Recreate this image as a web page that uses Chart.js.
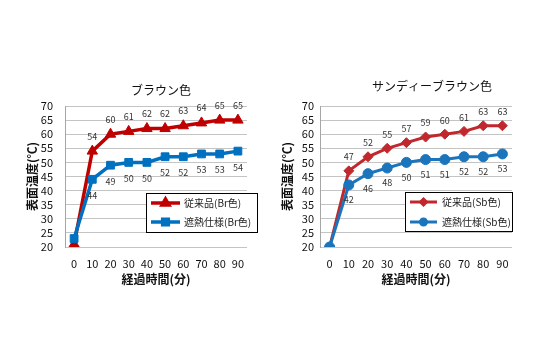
<!DOCTYPE html>
<html>
<head>
<meta charset="utf-8">
<script src="https://cdn.jsdelivr.net/npm/chart.js@4.4.0/dist/chart.umd.min.js"></script>
<style>
html,body{margin:0;padding:0;background:#fff;width:540px;height:360px;overflow:hidden;}
canvas{position:absolute;top:0;}
#c1{left:0;}
#c2{left:270px;}
</style>
</head>
<body>
<canvas id="c1" width="270" height="360"></canvas>
<canvas id="c2" width="270" height="360"></canvas>
<script>
// ---- data ----
const minutes = ['0','10','20','30','40','50','60','70','80','90'];

const brownTitle = 'ブラウン色';
const brownConvLabel = '従来品(Br色)';
const brownConv = [21, 54, 60, 61, 62, 62, 63, 64, 65, 65];
const brownHeatLabel = '遮熱仕様(Br色)';
const brownHeat = [23, 44, 49, 50, 50, 52, 52, 53, 53, 54];

const sandyTitle = 'サンディーブラウン色';
const sandyConvLabel = '従来品(Sb色)';
const sandyConv = [20, 47, 52, 55, 57, 59, 60, 61, 63, 63];
const sandyHeatLabel = '遮熱仕様(Sb色)';
const sandyHeat = [20, 42, 46, 48, 50, 51, 51, 52, 52, 53];

const yTitle = '表面温度(℃)';
const xTitle = '経過時間(分)';

const FONT = '"Noto Sans CJK JP", "Noto Sans", sans-serif';

function makeChart(id, o) {
  const extras = {
    id: 'extras',
    afterDraw(chart) {
      const ctx = chart.ctx;
      ctx.save();
      // title
      ctx.fillStyle = '#111';
      ctx.font = '12px ' + FONT;
      ctx.textAlign = 'center';
      ctx.textBaseline = 'middle';
      ctx.fillText(o.title, o.titleX, o.titleY);
      // data labels
      ctx.font = '9px ' + FONT;
      ctx.fillStyle = '#333';
      chart.data.datasets.forEach((ds, di) => {
        const meta = chart.getDatasetMeta(di);
        meta.data.forEach((pt, i) => {
          if (i === 0) return;
          ctx.fillText(String(ds.data[i]), pt.x, pt.y + o.labelOff[di]);
        });
      });
      // legend
      const L = o.legend;
      ctx.fillStyle = '#fff';
      ctx.fillRect(L.x, L.y, L.w, L.h);
      ctx.strokeStyle = '#000';
      ctx.lineWidth = 1;
      ctx.strokeRect(L.x + 0.5, L.y + 0.5, L.w, L.h);
      chart.data.datasets.forEach((ds, di) => {
        const yy = L.y + L.rows[di];
        ctx.strokeStyle = ds.borderColor;
        ctx.lineWidth = ds.borderWidth;
        ctx.beginPath();
        ctx.moveTo(L.x + L.lx0, yy);
        ctx.lineTo(L.x + L.lx1, yy);
        ctx.stroke();
        ctx.fillStyle = ds.pointBackgroundColor;
        ctx.strokeStyle = ds.borderColor;
        Chart.helpers.drawPoint(ctx, {pointStyle: ds.pointStyle, radius: L.mr, rotation: 0, borderWidth: 1}, L.x + (L.lx0 + L.lx1) / 2, yy);
        ctx.fillStyle = '#222';
        ctx.font = '10px ' + FONT;
        ctx.textAlign = 'left';
        ctx.textBaseline = 'middle';
        ctx.fillText(ds.label, L.x + L.tx, yy);
      });
      ctx.restore();
    }
  };

  return new Chart(document.getElementById(id), {
    type: 'line',
    data: {
      labels: minutes,
      datasets: [
        {
          label: o.s1Label, data: o.s1, order: 1,
          borderColor: o.red, backgroundColor: o.red, pointBackgroundColor: o.red, pointBorderColor: o.red,
          borderWidth: o.bw, pointStyle: o.s1Style, pointRadius: o.r1, pointBorderWidth: 1, tension: 0
        },
        {
          label: o.s2Label, data: o.s2, order: 0,
          borderColor: o.blue, backgroundColor: o.blue, pointBackgroundColor: o.blue, pointBorderColor: o.blue,
          borderWidth: o.bw, pointStyle: o.s2Style, pointRadius: o.r2, pointBorderWidth: 1, tension: 0
        }
      ]
    },
    options: {
      responsive: false,
      animation: false,
      devicePixelRatio: 1,
      layout: { padding: { left: o.padL, top: 106, right: o.padR, bottom: 73 } },
      plugins: { legend: { display: false }, tooltip: { enabled: false }, title: { display: false } },
      scales: {
        x: {
          offset: true,
          grid: { display: false, drawTicks: false },
          border: { display: false },
          ticks: { color: '#111', font: { family: FONT, size: 11 }, padding: 10, maxRotation: 0, autoSkip: false },
          title: { display: true, text: xTitle, color: '#111', font: { family: FONT, size: 12, weight: 'bold' }, padding: 0 },
          afterFit(s) { s.height = 40; }
        },
        y: {
          min: 20, max: 70,
          grid: { color: '#c4c4c4', drawTicks: false, lineWidth: 1 },
          border: { display: true, color: '#a6a6a6' },
          ticks: { stepSize: 5, autoSkip: false, color: '#111', font: { family: FONT, size: 11 }, padding: o.tickPad },
          title: { display: true, text: yTitle, color: '#111', font: { family: FONT, size: 12, weight: 'bold' }, padding: 0 },
          afterFit(s) { s.width = o.yW; }
        }
      }
    },
    plugins: [extras]
  });
}

makeChart('c1', {
  title: brownTitle, titleX: 161, titleY: 90,
  s1Label: brownConvLabel, s1: brownConv, s2Label: brownHeatLabel, s2: brownHeat,
  red: '#C00000', blue: '#0070C0', bw: 3.5,
  s1Style: 'triangle', r1: 6, s2Style: 'rect', r2: 5.5,
  padL: 25, yW: 40, padR: 23, tickPad: 12,
  labelOff: [-15, 16],
  legend: { x: 146, y: 193, w: 111, h: 39, rows: [10, 29], lx0: 5, lx1: 34, tx: 38, mr: 4 }
});

makeChart('c2', {
  title: sandyTitle, titleX: 162, titleY: 86,
  s1Label: sandyConvLabel, s1: sandyConv, s2Label: sandyHeatLabel, s2: sandyHeat,
  red: '#C0282D', blue: '#1B75BC', bw: 3,
  s1Style: 'rectRot', r1: 5, s2Style: 'circle', r2: 5,
  padL: 10, yW: 40, padR: 28, tickPad: 6,
  labelOff: [-14, 15],
  legend: { x: 135, y: 192, w: 107, h: 39, rows: [10, 30], lx0: 5, lx1: 32, tx: 37, mr: 3 }
});
</script>
</body>
</html>
